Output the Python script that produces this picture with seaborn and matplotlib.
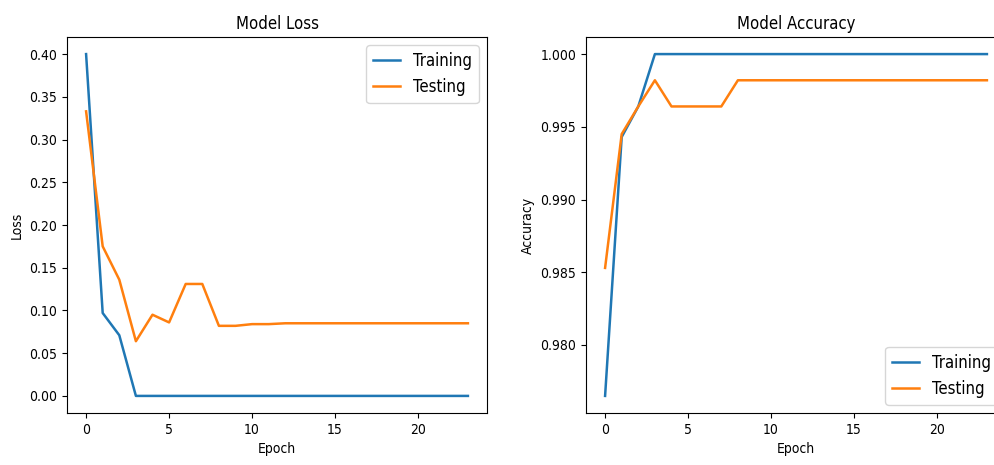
import seaborn as sns
import matplotlib.pyplot as plt
import pandas as pd

epochs = list(range(24))

train_loss = [0.400, 0.097, 0.071, 0.000, 0.000, 0.000, 0.000, 0.000, 0.000, 0.000, 0.000, 0.000,
              0.000, 0.000, 0.000, 0.000, 0.000, 0.000, 0.000, 0.000, 0.000, 0.000, 0.000, 0.000]
test_loss = [0.333, 0.175, 0.136, 0.064, 0.095, 0.086, 0.131, 0.131, 0.082, 0.082, 0.084, 0.084,
             0.085, 0.085, 0.085, 0.085, 0.085, 0.085, 0.085, 0.085, 0.085, 0.085, 0.085, 0.085]

train_acc = [0.9765, 0.9943, 0.9964, 1.0, 1.0, 1.0, 1.0, 1.0, 1.0, 1.0, 1.0, 1.0,
             1.0, 1.0, 1.0, 1.0, 1.0, 1.0, 1.0, 1.0, 1.0, 1.0, 1.0, 1.0]
test_acc = [0.9853, 0.9945, 0.9964, 0.9982, 0.9964, 0.9964, 0.9964, 0.9964, 0.9982, 0.9982, 0.9982, 0.9982,
            0.9982, 0.9982, 0.9982, 0.9982, 0.9982, 0.9982, 0.9982, 0.9982, 0.9982, 0.9982, 0.9982, 0.9982]

series = ['Training', 'Testing']

df_loss = pd.DataFrame({'Epoch': epochs * 2,
                        'Loss': train_loss + test_loss,
                        'Set': [series[0]] * 24 + [series[1]] * 24})
df_acc = pd.DataFrame({'Epoch': epochs * 2,
                       'Accuracy': train_acc + test_acc,
                       'Set': [series[0]] * 24 + [series[1]] * 24})

# narrow text like the reference
plt.rcParams['font.family'] = ['DejaVu Sans']
plt.rcParams['font.stretch'] = 'condensed'
plt.rcParams['font.size'] = 10

fig = plt.figure(figsize=(9.95, 4.65), dpi=100)

# left panel: loss
ax1 = fig.add_axes([67 / 995, 1 - 413 / 465, 420 / 995, 376 / 465])
sns.lineplot(data=df_loss, x='Epoch', y='Loss', hue='Set', ax=ax1, linewidth=1.8)
ax1.set_title('Model Loss', fontsize=12)
ax1.legend(loc='upper right', fontsize=12, handlelength=1.6)

# right panel: accuracy (cut off on the right, like the reference)
ax2 = fig.add_axes([586 / 995, 1 - 413 / 465, 420 / 995, 376 / 465])
sns.lineplot(data=df_acc, x='Epoch', y='Accuracy', hue='Set', ax=ax2, linewidth=1.8)
ax2.set_title('Model Accuracy', fontsize=12)
ax2.legend(loc='lower right', fontsize=12, handlelength=1.6, bbox_to_anchor=(1.0, 0.0))

fig.savefig('out.png', dpi=100)
